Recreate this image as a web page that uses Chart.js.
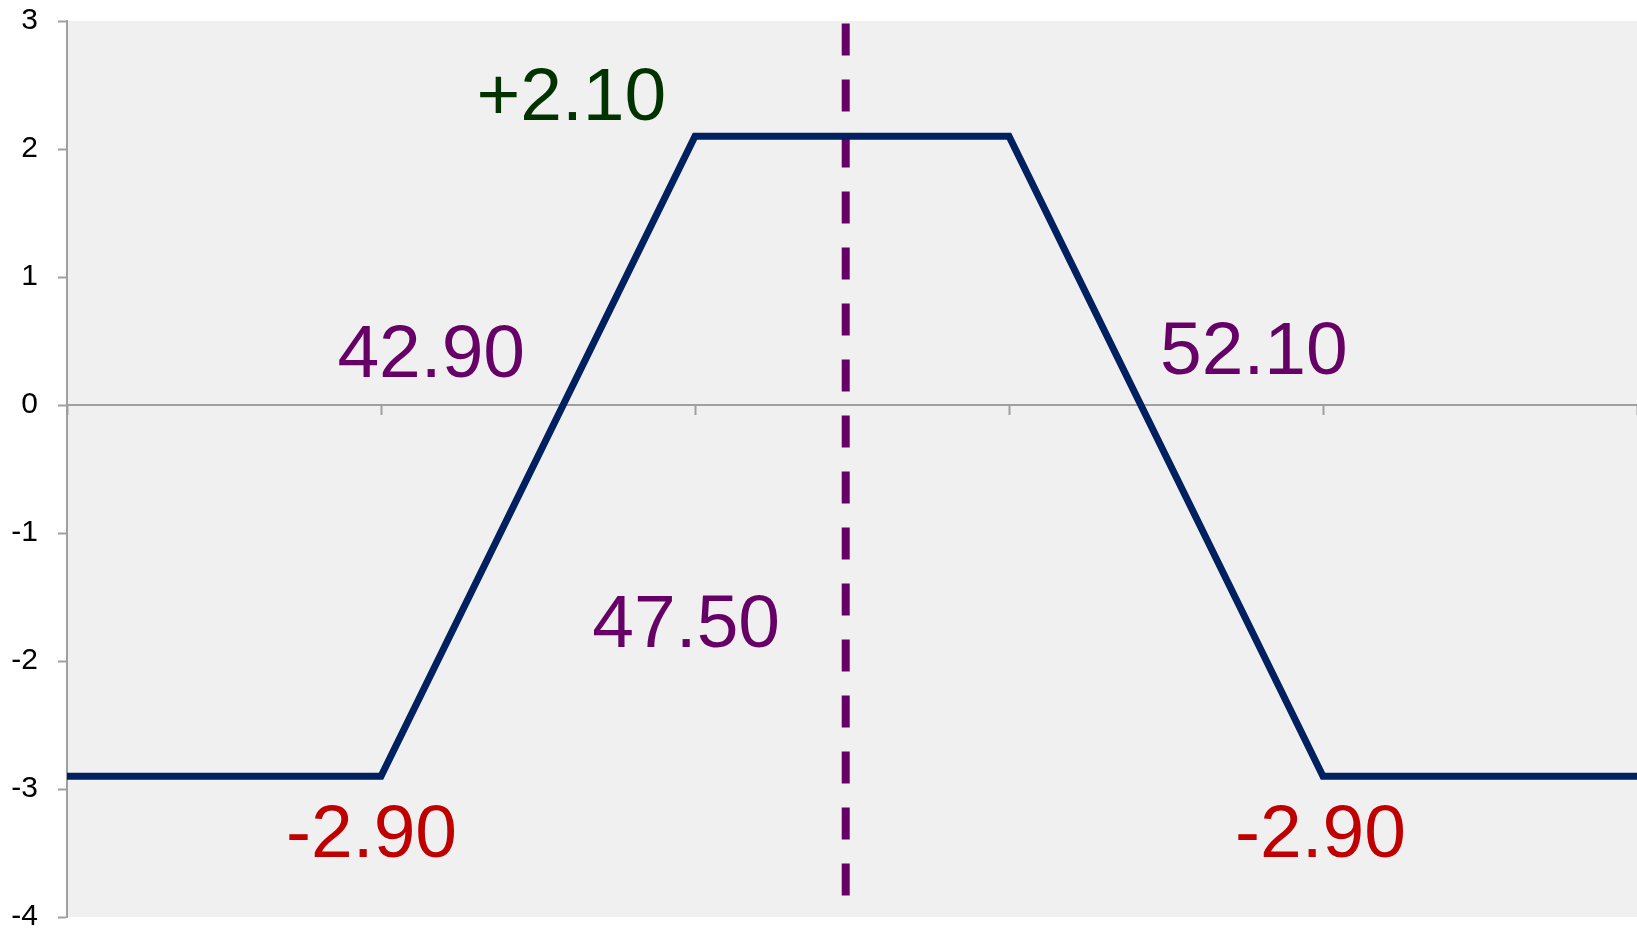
<!DOCTYPE html>
<html>
<head>
<meta charset="utf-8">
<script src="https://cdn.jsdelivr.net/npm/chart.js@4.4.1/dist/chart.umd.min.js"></script>
<style>
  html, body { margin: 0; padding: 0; background: #ffffff; }
  #wrap { width: 1637px; height: 929px; position: relative; }
</style>
</head>
<body>
<div id="wrap"><canvas id="c"></canvas></div>
<script>
// ---- data ----
const prices = [35, 40, 45, 50, 55, 60];
const payoff = [-2.9, -2.9, 2.1, 2.1, -2.9, -2.9];
const currentPrice = 47.4;
const currentLineY = [2.98, -3.84];
const yTicks = [-4, -3, -2, -1, 0, 1, 2, 3];
const labelTexts = ['+2.10', '42.90', '52.10', '47.50', '-2.90', '-2.90'];
const labelX = [43.03, 40.8, 53.9, 44.86, 39.85, 54.96];
const labelY = [2.39, 0.38, 0.40, -1.73, -3.37, -3.37];
const labelColors = ['#003300', '#660066', '#660066', '#660066', '#c00000', '#c00000'];

const payoffPoints = prices.map((p, i) => ({ x: p, y: payoff[i] }));
const currentPoints = currentLineY.map(v => ({ x: currentPrice, y: v }));

const bgPlugin = {
  id: 'bg',
  beforeDraw(chart) {
    const { ctx, chartArea: a } = chart;
    ctx.save();
    ctx.fillStyle = '#f0f0f0';
    ctx.fillRect(a.left, a.top, a.right - a.left, a.bottom - a.top);
    ctx.restore();
  }
};

const labelPlugin = {
  id: 'labels',
  afterDatasetsDraw(chart) {
    const { ctx, scales } = chart;
    ctx.save();
    ctx.font = '75px "Liberation Sans", Arial, sans-serif';
    ctx.textAlign = 'center';
    ctx.textBaseline = 'middle';
    labelTexts.forEach((t, i) => {
      ctx.fillStyle = labelColors[i];
      ctx.fillText(t, scales.x.getPixelForValue(labelX[i]), scales.y.getPixelForValue(labelY[i]));
    });
    ctx.restore();
  }
};

new Chart(document.getElementById('c'), {
  type: 'scatter',
  data: {
    datasets: [
      {
        data: payoffPoints,
        showLine: true,
        borderColor: '#002060',
        borderWidth: 7,
        pointRadius: 0,
        pointHoverRadius: 0,
        tension: 0
      },
      {
        data: currentPoints,
        showLine: true,
        borderColor: '#660066',
        borderWidth: 8,
        borderDash: [32, 24],
        borderCapStyle: 'butt',
        pointRadius: 0,
        pointHoverRadius: 0
      }
    ]
  },
  options: {
    responsive: true,
    maintainAspectRatio: false,
    animation: false,
    events: [],
    layout: { padding: { top: 21, bottom: 12, left: 0, right: 0 } },
    plugins: { legend: { display: false }, tooltip: { enabled: false } },
    scales: {
      x: {
        type: 'linear',
        position: { y: 0 },
        min: 35,
        max: 60,
        ticks: { display: false, stepSize: 5 },
        grid: {
          drawOnChartArea: false,
          drawTicks: true,
          tickLength: 9,
          tickWidth: 2,
          tickColor: '#a0a0a0',
          color: '#a0a0a0'
        },
        border: { display: true, color: '#a0a0a0', width: 2 },
        afterFit(scale) { scale.height = 0; scale.paddingLeft = 0; scale.paddingRight = 0; }
      },
      y: {
        type: 'linear',
        position: 'left',
        min: -4,
        max: 3,
        afterBuildTicks(scale) { scale.ticks = yTicks.map(v => ({ value: v })); },
        ticks: {
          color: '#000000',
          padding: 20,
          font: { family: '"Liberation Sans", Arial, sans-serif', size: 30 }
        },
        grid: {
          drawOnChartArea: false,
          drawTicks: true,
          tickLength: 9,
          tickWidth: 2,
          tickColor: '#a0a0a0',
          color: '#a0a0a0'
        },
        border: { display: true, color: '#a0a0a0', width: 2 },
        afterFit(scale) { scale.width = 67; scale.paddingTop = 0; scale.paddingBottom = 0; }
      }
    }
  },
  plugins: [bgPlugin, labelPlugin]
});
</script>
</body>
</html>
